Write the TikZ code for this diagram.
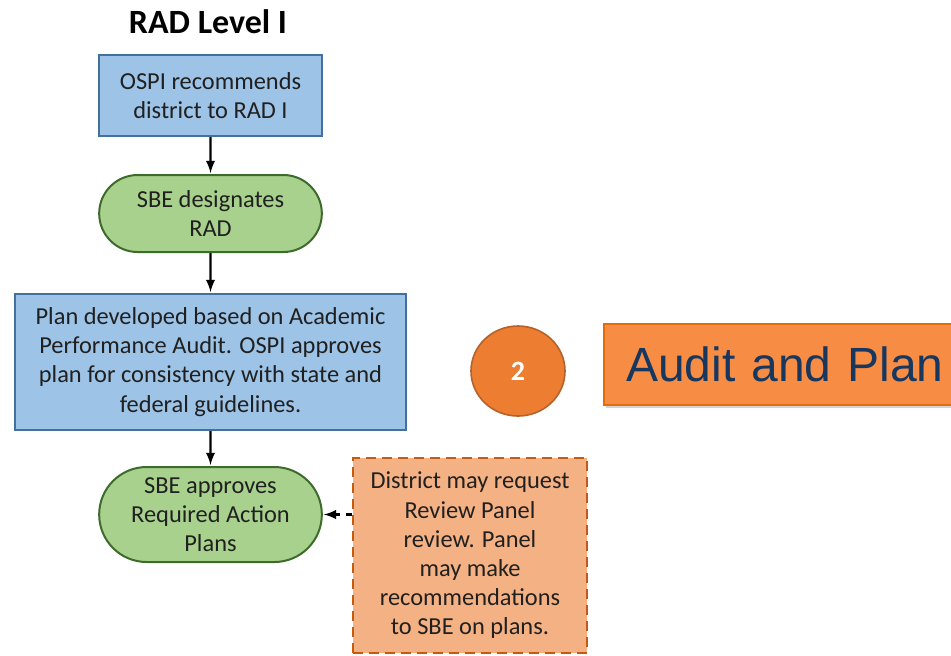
\documentclass[tikz,border=0pt]{standalone}
\usepackage{fontspec}
\setmainfont{Carlito}
\newfontfamily\arialfont{Liberation Sans}
\usetikzlibrary{positioning, arrows, shapes.misc, shapes.geometric, shadows}

\definecolor{blueFill}{HTML}{9DC3E6}
\definecolor{blueLine}{HTML}{41719C}
\definecolor{greenFill}{HTML}{A9D18E}
\definecolor{greenLine}{HTML}{3D6B2B}
\definecolor{peachFill}{HTML}{F4B183}
\definecolor{peachLine}{HTML}{C55A11}
\definecolor{circFill}{HTML}{ED7D31}
\definecolor{circLine}{HTML}{B5622A}
\definecolor{titleFill}{HTML}{F78D45}
\definecolor{titleLine}{HTML}{E46C0A}
\definecolor{navy}{HTML}{17375E}
\definecolor{ink}{HTML}{202020}

\tikzset{
  process/.style={rectangle, draw=blueLine, fill=blueFill, line width=1pt,
    align=center, text=ink, font=\fontsize{12.2}{14.6}\selectfont},
  decision/.style={rounded rectangle, draw=greenLine, fill=greenFill, line width=1pt,
    align=center, text=ink, font=\fontsize{12.2}{14.6}\selectfont},
  note/.style={rectangle, draw=peachLine, fill=peachFill, line width=1pt,
    dash pattern=on 5pt off 3pt,
    align=center, text=ink, font=\fontsize{12.2}{14.6}\selectfont},
  flow/.style={->, >=latex, line width=1.1pt, shorten >=0.5pt}
}

\begin{document}
\begin{tikzpicture}[x=0.5pt,y=-0.5pt,node distance=18pt]
  \useasboundingbox (0,0) rectangle (951,655);

  \node[font=\fontsize{17}{20}\bfseries\selectfont] (title) at (208,22) {RAD Level I};

  \node[process, minimum width=111.5pt, minimum height=40.5pt] (recommend) at (210.5,95.5)
    {OSPI recommends\\district to RAD I};
  \node[decision, minimum width=118pt, minimum height=38.5pt] (designate) [below=18.5pt of recommend]
    {SBE designates\\RAD};
  \node[process, minimum width=195.5pt, minimum height=68pt] (plan) [below=20pt of designate]
    {Plan developed based on Academic\\Performance Audit. OSPI approves\\plan for consistency with state and\\federal guidelines.};
  \node[decision, minimum width=118pt, minimum height=47.5pt] (approve) [below=17.5pt of plan]
    {SBE approves\\Required Action\\Plans};
  \node[note, minimum width=117pt, minimum height=97.5pt] (review) at (470,555.5)
    {District may request\\Review Panel\\review. Panel\\may make\\recommendations\\to SBE on plans.};

  \node[ellipse, draw=circLine, fill=circFill, line width=0.8pt, minimum width=47pt,
    minimum height=45pt, text=white, font=\fontsize{14}{16}\bfseries\selectfont] (step) at (518,371) {2};
  \node[rectangle, draw=titleLine, fill=titleFill, line width=1pt, minimum width=182pt,
    minimum height=40.5pt, drop shadow={opacity=0.35, shadow xshift=1pt, shadow yshift=-1.5pt},
    text=navy, font=\arialfont\fontsize{24}{28}\selectfont, anchor=west,
    text width=168pt, align=left, inner sep=0pt, inner xsep=11pt] (phase) at (603,364.5) {Audit and Plan};

  \draw[flow] (recommend) -- (designate);
  \draw[flow] (designate) -- (plan);
  \draw[flow] (plan) -- (approve);
  \draw[flow, dashed] (review.west |- approve.east) -- (approve.east);
\end{tikzpicture}
\end{document}
